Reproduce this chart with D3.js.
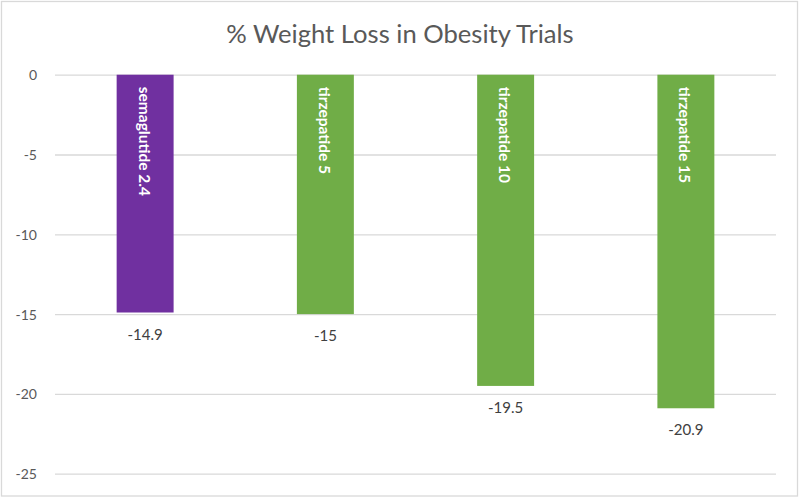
<!DOCTYPE html>
<html>
<head>
<meta charset="utf-8">
<script src="https://cdn.jsdelivr.net/npm/d3@7"></script>
<style>
  html, body { margin: 0; padding: 0; background: #fff; }
  svg { display: block; font-family: Calibri, Carlito, Lato, "Open Sans", sans-serif; }
</style>
</head>
<body>
<svg id="chart" width="800" height="498"></svg>
<script>
const title = "% Weight Loss in Obesity Trials";
const categories = ["semaglutide 2.4", "tirzepatide 5", "tirzepatide 10", "tirzepatide 15"];
const values = [-14.9, -15, -19.5, -20.9];
const barColors = ["#7030A0", "#70AD47", "#70AD47", "#70AD47"];
const yTicks = [0, -5, -10, -15, -20, -25];

const W = 800, H = 498;
const svg = d3.select("#chart");
const fmt = d3.formatLocale({ decimal: ".", thousands: ",", grouping: [3], currency: ["", ""], minus: "-" });
const fmtNum = fmt.format("");

// outer border
svg.append("rect")
  .attr("x", 1.5).attr("y", 1.5)
  .attr("width", W - 4).attr("height", H - 3.5)
  .attr("fill", "#fff").attr("stroke", "#d9d9d9").attr("stroke-width", 1.3);

const plot = { left: 55, right: 776, top: 74.7, bottom: 473.7 };

const x = d3.scaleBand()
  .domain(categories)
  .range([plot.left, plot.right])
  .paddingInner(0.684)
  .paddingOuter(0.342);

const y = d3.scaleLinear()
  .domain([0, -25])
  .range([plot.top, plot.bottom]);

// gridlines
const yAxis = d3.axisLeft(y)
  .tickValues(yTicks)
  .tickSize(-(plot.right - plot.left))
  .tickPadding(18)
  .tickFormat(fmt.format("d"));

const gAxis = svg.append("g")
  .attr("transform", `translate(${plot.left},0)`)
  .call(yAxis);
gAxis.select(".domain").remove();
gAxis.selectAll(".tick line")
  .attr("stroke", "#d9d9d9").attr("stroke-width", 1.3);
gAxis.selectAll(".tick text")
  .attr("fill", "#595959")
  .attr("font-size", 14)
  .attr("dy", "0.36em")
  .attr("x", -18)
  .style("font-family", "Lato, sans-serif");

// title
svg.append("text")
  .attr("x", 400).attr("y", 42.5)
  .attr("text-anchor", "middle")
  .attr("fill", "#595959")
  .attr("font-size", 25.6)
  .style("font-family", "Lato, sans-serif")
  .text(title);

// bars
const data = categories.map((c, i) => ({ c, v: values[i], color: barColors[i] }));
svg.append("g").selectAll("rect")
  .data(data).join("rect")
  .attr("x", d => x(d.c))
  .attr("y", y(0))
  .attr("width", x.bandwidth())
  .attr("height", d => y(d.v) - y(0))
  .attr("fill", d => d.color);

// rotated category labels inside bars
svg.append("g").selectAll("text")
  .data(data).join("text")
  .attr("transform", d => `translate(${x(d.c) + x.bandwidth() / 2 - 1},${y(0) + 12}) rotate(90)`)
  .attr("text-anchor", "start")
  .attr("dy", "0.35em")
  .attr("fill", "#fff")
  .attr("font-size", 15.5)
  .attr("font-weight", "bold")
  .style("font-family", "Lato, sans-serif")
  .text(d => d.c);

// value labels
svg.append("g").selectAll("text")
  .data(data).join("text")
  .attr("x", d => x(d.c) + x.bandwidth() / 2)
  .attr("y", d => y(d.v) + 27)
  .attr("text-anchor", "middle")
  .attr("fill", "#404040")
  .attr("font-size", 15)
  .style("font-family", "Lato, sans-serif")
  .text(d => fmtNum(d.v));
</script>
</body>
</html>
